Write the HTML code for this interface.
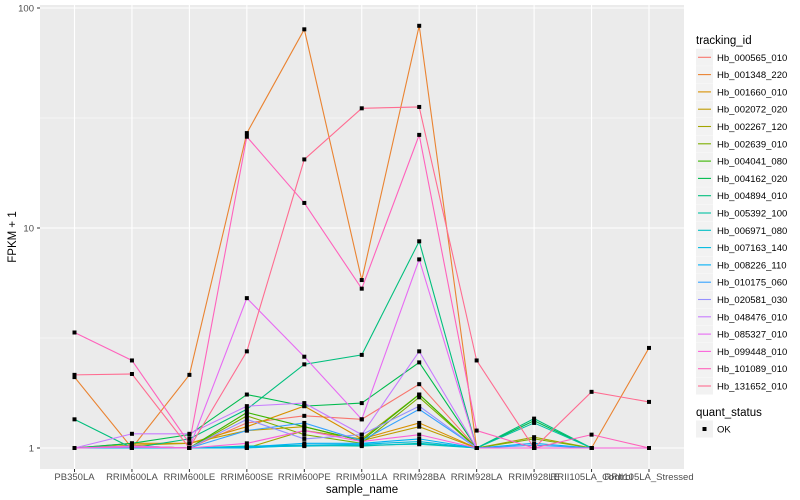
<!DOCTYPE html>
<html><head><meta charset="utf-8"><style>
body{margin:0;background:#fff;}
svg{display:block;font-family:"Liberation Sans",sans-serif;}
</style></head><body>
<svg id="chart" width="800" height="500"></svg>
<script>
const categories=["PB350LA","RRIM600LA","RRIM600LE","RRIM600SE","RRIM600PE","RRIM901LA","RRIM928BA","RRIM928LA","RRIM928LE","RRII105LA_Control","RRII105LA_Stressed"];
const seriesNames=["Hb_000565_010","Hb_001348_220","Hb_001660_010","Hb_002072_020","Hb_002267_120","Hb_002639_010","Hb_004041_080","Hb_004162_020","Hb_004894_010","Hb_005392_100","Hb_006971_080","Hb_007163_140","Hb_008226_110","Hb_010175_060","Hb_020581_030","Hb_048476_010","Hb_085327_010","Hb_099448_010","Hb_101089_010","Hb_131652_010"];
const seriesColors=["#F8766D","#EA8331","#D89000","#C09B00","#A3A500","#7CAE00","#39B600","#00BB4E","#00BF7D","#00C1A3","#00BFC4","#00BAE0","#00B0F6","#35A2FF","#9590FF","#C77CFF","#E76BF3","#FA62DB","#FF62BC","#FF6C91"];
const s000565=[1,1.02,1,1.3,1.4,1.35,1.95,1,1,1,1];
const s001348=[2.1,1,2.15,27,80,5.8,83,1,1,1,2.85];
const s001660=[1,1.05,1.05,1.25,1.55,1.1,1.3,1,1,1,1];
const s002072=[1,1.03,1.05,1.2,1.25,1.08,1.25,1,1,1,1];
const s002267=[1,1.02,1,1,1.2,1.1,1.75,1,1.12,1,1];
const s002639=[1,1.02,1,1.4,1.15,1.05,1.7,1,1.1,1,1];
const s004041=[1,1,1,1.45,1.25,1.08,1.75,1,1,1,1];
const s004162=[1,1.05,1.15,1.75,1.55,1.6,2.45,1,1.33,1,1];
const s004894=[1.35,1,1.1,1.5,2.4,2.65,8.7,1,1.36,1,1];
const s005392=[1,1,1,1.02,1.03,1.02,1.05,1,1.3,1,1];
const s006971=[1,1,1,1.01,1.02,1.03,1.04,1,1,1,1];
const s007163=[1,1,1,1,1.03,1.04,1.07,1,1,1,1];
const s008226=[1,1,1,1.01,1.05,1.05,1.1,1,1.05,1,1];
const s010175=[1,1.01,1,1.2,1.3,1.08,1.5,1,1.03,1,1];
const s020581=[1,1.02,1,1.35,1.1,1.15,1.55,1,1,1,1];
const s048476=[1,1.16,1.16,1.55,1.6,1.15,2.75,1,1,1,1];
const s085327=[1,1.02,1,4.8,2.6,1.35,7.2,1,1,1,1];
const s099448=[1,1.01,1,1.05,1.2,1.07,1.15,1,1,1,1];
const s101089=[3.35,2.5,1.05,26,13,5.3,26.5,1.2,1,1.15,1];
const s131652=[2.15,2.17,1,2.75,20.5,35,35.5,2.5,1,1.8,1.62];
const seriesValues=[s000565,s001348,s001660,s002072,s002267,s002639,s004041,s004162,s004894,s005392,s006971,s007163,s008226,s010175,s020581,s048476,s085327,s099448,s101089,s131652];
const yTicks=[1,10,100];
const yMinor=[Math.sqrt(10),Math.sqrt(1000)];

const NS="http://www.w3.org/2000/svg";
const svg=document.getElementById("chart");
const PL=40,PR=684,PT=5,PB=469;
function xScale(i){return 74.5+i*57.45;}
function yScale(v){return 448-220*Math.log10(v);}
function mk(tag,attrs,parent){const e=document.createElementNS(NS,tag);for(const k in attrs)e.setAttribute(k,attrs[k]);(parent||svg).appendChild(e);return e;}

const bg=mk("rect",{x:PL,y:PT,width:PR-PL,height:PB-PT,fill:"#EBEBEB"});


yMinor.forEach(v=>{const l=mk("line",{x1:PL,x2:PR,y1:yScale(v),y2:yScale(v),stroke:"#fff","stroke-width":0.55});

});
yTicks.forEach(v=>{const y=yScale(v);
const l=mk("line",{x1:PL,x2:PR,y1:y,y2:y,stroke:"#fff","stroke-width":1.1});


mk("line",{x1:37,x2:40,y1:y,y2:y,stroke:"#333","stroke-width":1});
const t=mk("text",{x:34,y:y+3.5,"text-anchor":"end","font-size":"9.5",fill:"#4D4D4D"});t.textContent=String(v);

});
categories.forEach((c,i)=>{const x=xScale(i);
const l=mk("line",{x1:x,x2:x,y1:PT,y2:PB,stroke:"#fff","stroke-width":1.1});


mk("line",{x1:x,x2:x,y1:PB,y2:PB+3,stroke:"#333","stroke-width":1});
const t=mk("text",{x:x,y:480,"text-anchor":"middle","font-size":"9.5",fill:"#4D4D4D"});t.textContent=c;

});

seriesValues.forEach((vals,s)=>{
const pts=vals.map((v,i)=>xScale(i)+","+yScale(v)).join(" ");
const pl=mk("polyline",{points:pts,fill:"none",stroke:seriesColors[s],"stroke-width":1.1});

});
seriesValues.forEach((vals,s)=>{vals.forEach((v,i)=>{
const r=mk("rect",{x:xScale(i)-2,y:yScale(v)-2,width:4,height:4,fill:"#000"});

});});

const xt=mk("text",{x:362,y:493,"text-anchor":"middle","font-size":"11.5",fill:"#000"});xt.textContent="sample_name";


const yt=mk("text",{x:0,y:0,"text-anchor":"middle","font-size":"11.5",fill:"#000",transform:"translate(16,237) rotate(-90)"});yt.textContent="FPKM + 1";



const lt=mk("text",{x:696,y:44,"font-size":"11.5",fill:"#000"});lt.textContent="tracking_id";


seriesNames.forEach((n,s)=>{const cy=57.3+s*17.3;
const g=mk("g",{});


mk("rect",{x:696,y:cy-8.5,width:17,height:17,fill:"#F2F2F2"},g);
mk("line",{x1:698,x2:711,y1:cy,y2:cy,stroke:seriesColors[s],"stroke-width":1.1},g);
const t=mk("text",{x:717,y:cy+3.5,"font-size":"9.5",fill:"#000"},g);t.textContent=n;});
const qt=mk("text",{x:696,y:416,"font-size":"11.5",fill:"#000"});qt.textContent="quant_status";


const qg=mk("g",{});


mk("rect",{x:696,y:420.5,width:17,height:17,fill:"#F2F2F2"},qg);
mk("rect",{x:702.5,y:427,width:4,height:4,fill:"#000"},qg);
const ok=mk("text",{x:717,y:432.5,"font-size":"9.5",fill:"#000"},qg);ok.textContent="OK";
</script>
</body></html>
